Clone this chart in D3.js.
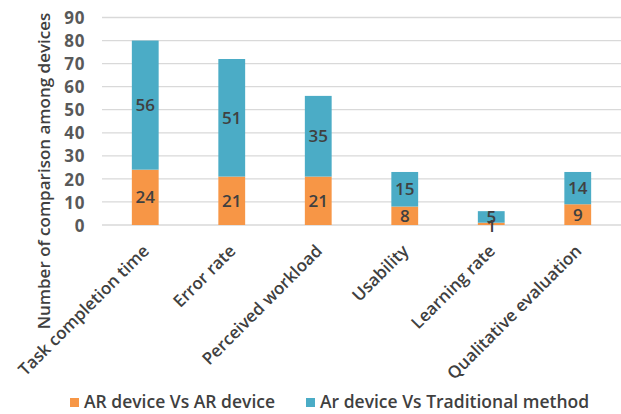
<!DOCTYPE html>
<html>
<head>
<meta charset="utf-8">
<script src="https://cdn.jsdelivr.net/npm/d3@7"></script>
<style>
  html, body { margin: 0; padding: 0; background: #fff; }
  svg { display: block; font-family: "Open Sans", "Noto Sans", sans-serif; }
</style>
</head>
<body>
<svg id="chart" width="621" height="414"></svg>
<script>
const categories = ["Task completion time", "Error rate", "Perceived workload", "Usability", "Learning rate", "Qualitative evaluation"];
const seriesNames = ["AR device Vs AR device", "Ar device Vs Traditional method"];
const arVsAr = [24, 21, 21, 8, 1, 9];
const arVsTraditional = [56, 51, 35, 15, 5, 14];
const yTicks = [0, 10, 20, 30, 40, 50, 60, 70, 80, 90];
const colors = ["#F79646", "#4BACC6"];

const svg = d3.select("#chart");
const x = d3.scaleBand().domain(categories).range([102, 621]).paddingInner(0.69).paddingOuter(0.345);
const y = d3.scaleLinear().domain([0, 90]).range([225, 17.5]);

const rows = categories.map((c, i) => ({ cat: c, a: arVsAr[i], b: arVsTraditional[i] }));
const stack = d3.stack().keys(["a", "b"])(rows);

// gridlines
svg.append("g").selectAll("line").data(yTicks).join("line")
  .attr("x1", 102).attr("x2", 621)
  .attr("y1", d => y(d)).attr("y2", d => y(d))
  .attr("stroke", "#d9d9d9").attr("stroke-width", 1.3);

// y axis labels
const yAxis = d3.axisLeft(y).tickValues(yTicks).tickSize(0).tickPadding(0);
const yg = svg.append("g").attr("transform", "translate(85,0)").call(yAxis);
yg.select(".domain").remove();
yg.selectAll("text").attr("font-size", 17).attr("font-weight", 700).attr("fill", "#595959")
  .attr("font-family", "'Open Sans', sans-serif").attr("dy", "0.36em").attr("letter-spacing", 0.6);

// bars
stack.forEach((layer, li) => {
  svg.append("g").selectAll("rect").data(layer).join("rect")
    .attr("x", d => x(d.data.cat))
    .attr("width", x.bandwidth())
    .attr("y", d => y(d[1]))
    .attr("height", d => y(d[0]) - y(d[1]))
    .attr("fill", colors[li]);
});

// data labels
stack.forEach((layer, li) => {
  svg.append("g").selectAll("text").data(layer).join("text")
    .attr("x", d => x(d.data.cat) + x.bandwidth() / 2)
    .attr("y", d => {
      const h = y(d[0]) - y(d[1]);
      if (h < 10) return (y(d[0]) + y(d[1])) / 2 + 2.5;
      return (y(d[0]) + y(d[1])) / 2;
    })
    .attr("dy", "0.36em")
    .attr("text-anchor", "middle")
    .attr("font-size", 17).attr("font-weight", 600).attr("fill", "#404040")
    .text(d => d[1] - d[0]);
});

// category labels
svg.append("g").selectAll("text").data(categories).join("text")
  .attr("transform", d => `translate(${x(d) + x.bandwidth() / 2 + 5},${252}) rotate(-45)`)
  .attr("text-anchor", "end")
  .attr("font-size", 17).attr("font-weight", 600).attr("fill", "#404040")
  .text(d => d);

// y axis title
svg.append("text")
  .attr("transform", "translate(50,171) rotate(-90)")
  .attr("text-anchor", "middle")
  .attr("font-size", 17).attr("font-weight", 600).attr("fill", "#404040")
  .text("Number of comparison among devices");

// legend
const legendX = [70, 306];
seriesNames.forEach((n, i) => {
  const g = svg.append("g").attr("transform", `translate(${legendX[i]},408)`);
  g.append("rect").attr("x", 0).attr("y", -10).attr("width", 9).attr("height", 9).attr("fill", colors[i]);
  g.append("text").attr("x", 14).attr("y", 0)
    .attr("font-size", 17.5).attr("font-weight", 600).attr("fill", "#404040").text(n);
});
</script>
</body>
</html>
